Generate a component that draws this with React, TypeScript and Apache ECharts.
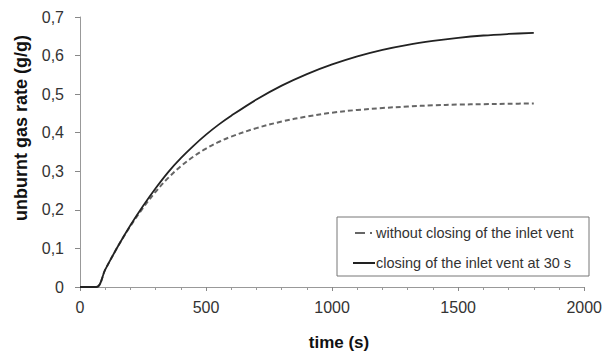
import React, { useEffect, useRef } from "react";
import * as echarts from "echarts";

// time (s)
const timeS = [0, 65, 100, 150, 200, 250, 300, 350, 400, 450, 500, 550, 600, 700, 800, 900, 1000, 1100, 1200, 1300, 1400, 1500, 1600, 1700, 1800];
// unburnt gas rate (g/g), inlet vent left open
const withoutClosing = [0, 0, 0.045, 0.105, 0.158, 0.205, 0.247, 0.283, 0.313, 0.338, 0.359, 0.376, 0.39, 0.412, 0.429, 0.442, 0.452, 0.459, 0.464, 0.468, 0.471, 0.473, 0.474, 0.475, 0.476];
// unburnt gas rate (g/g), inlet vent closed at 30 s
const closingAt30 = [0, 0, 0.045, 0.105, 0.16, 0.21, 0.256, 0.298, 0.334, 0.366, 0.395, 0.421, 0.444, 0.486, 0.522, 0.552, 0.577, 0.598, 0.615, 0.628, 0.638, 0.646, 0.652, 0.656, 0.659];

const legendLabels = ["without closing of the inlet vent", "closing of the inlet vent at 30 s"];
const xTitle = "time (s)";
const yTitle = "unburnt gas rate (g/g)";

const FONT = "'Liberation Sans', Arial, sans-serif";

export default function App() {
  const ref = useRef<HTMLDivElement>(null);

  useEffect(() => {
    if (!ref.current) return;
    const chart = echarts.init(ref.current, null, { renderer: "svg" });
    const pair = (ys: number[]) => timeS.map((t, i) => [t, ys[i]]);
    chart.setOption({
      animation: false,
      backgroundColor: "#fff",
      textStyle: { fontFamily: FONT },
      grid: { left: 80, right: 8, top: 17, bottom: 69 },
      xAxis: {
        type: "value",
        min: 0,
        max: 2000,
        interval: 500,
        axisLine: { show: true, lineStyle: { color: "#999", width: 1 } },
        axisTick: { show: true, length: 4, lineStyle: { color: "#888" } },
        minorTick: { show: true, splitNumber: 5, length: 3, lineStyle: { color: "#999" } },
        splitLine: { show: false },
        axisLabel: {
          fontSize: 16,
          color: "#333",
          margin: 12,
          fontFamily: FONT,
          formatter: (v: number) => String(v),
        },
      },
      yAxis: {
        type: "value",
        min: 0,
        max: 0.7,
        interval: 0.1,
        axisLine: { show: true, lineStyle: { color: "#999", width: 1 } },
        axisTick: { show: true, length: 5, lineStyle: { color: "#888" } },
        splitLine: { show: false },
        axisLabel: {
          fontSize: 16,
          color: "#333",
          margin: 16,
          fontFamily: FONT,
          formatter: (v: number) => (Math.round(v * 10) / 10).toString().replace(".", ","),
        },
      },
      series: [
        {
          name: legendLabels[0],
          type: "line",
          data: pair(withoutClosing),
          smooth: 0.35,
          symbol: "none",
          lineStyle: { color: "#666", width: 2, type: [5, 3] },
        },
        {
          name: legendLabels[1],
          type: "line",
          data: pair(closingAt30),
          smooth: 0.35,
          symbol: "none",
          lineStyle: { color: "#222", width: 1.8 },
        },
      ],
      graphic: [
        {
          type: "text",
          x: 339,
          y: 342,
          style: { text: xTitle, fontSize: 17, fontWeight: "bold", fill: "#111", fontFamily: FONT, align: "center", verticalAlign: "middle" },
        },
        {
          type: "text",
          x: 21,
          y: 128,
          rotation: Math.PI / 2,
          style: { text: yTitle, fontSize: 18, fontWeight: "bold", fill: "#111", fontFamily: FONT, align: "center", verticalAlign: "middle" },
        },
        {
          type: "rect",
          shape: { x: 337, y: 217, width: 252, height: 59 },
          style: { fill: "#fff", stroke: "#777", lineWidth: 1 },
          z: 10,
        },
        {
          type: "line",
          shape: { x1: 355, y1: 233, x2: 365, y2: 233 },
          style: { stroke: "#666", lineWidth: 2 },
          z: 11,
        },
        {
          type: "line",
          shape: { x1: 370, y1: 233, x2: 372, y2: 233 },
          style: { stroke: "#666", lineWidth: 2 },
          z: 11,
        },
        {
          type: "text",
          x: 376,
          y: 233,
          style: { text: legendLabels[0], fontSize: 14.5, fill: "#333", fontFamily: FONT, verticalAlign: "middle" },
          z: 11,
        },
        {
          type: "line",
          shape: { x1: 353, y1: 263, x2: 375, y2: 263 },
          style: { stroke: "#222", lineWidth: 2 },
          z: 11,
        },
        {
          type: "text",
          x: 376,
          y: 263,
          style: { text: legendLabels[1], fontSize: 14.5, fill: "#333", fontFamily: FONT, verticalAlign: "middle" },
          z: 11,
        },
      ],
    });
    return () => chart.dispose();
  }, []);

  return <div ref={ref} style={{ width: 605, height: 356, position: "absolute", left: 0, top: 0 }} />;
}
